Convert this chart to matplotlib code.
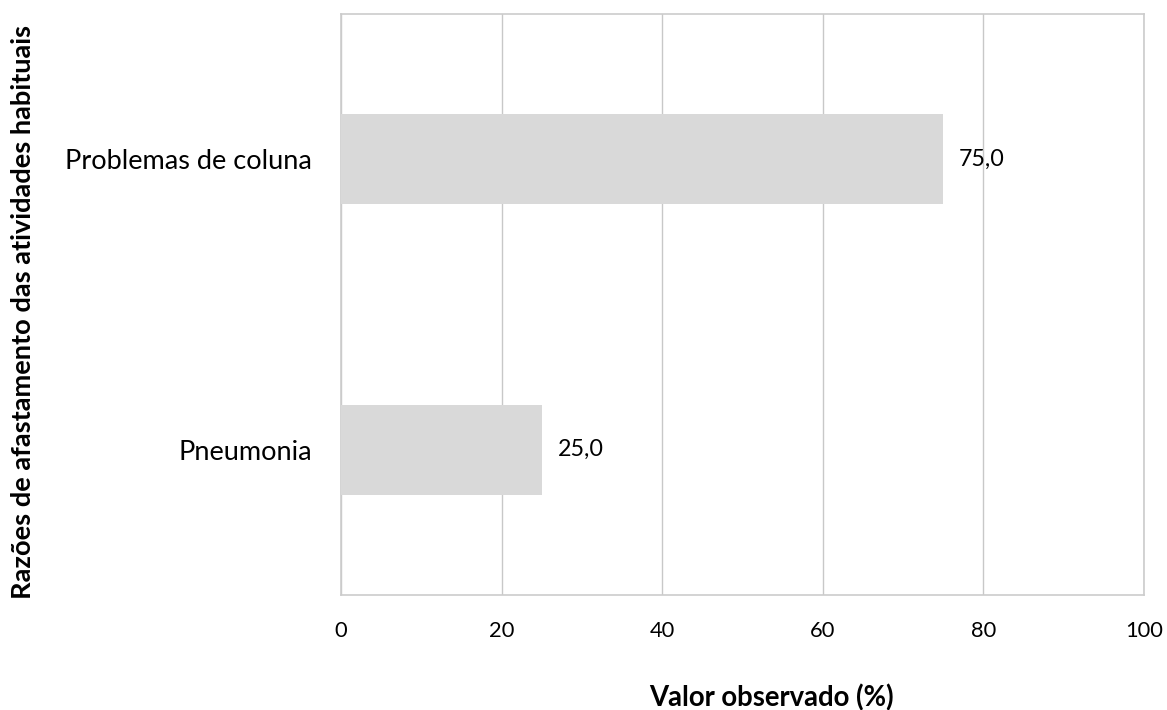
import matplotlib.pyplot as plt

# dados
categorias = ["Pneumonia", "Problemas de coluna"]
valores = [25.0, 75.0]
ticks_x = [0, 20, 40, 60, 80, 100]

plt.rcParams["font.family"] = ["Lato", "DejaVu Sans"]

W, H = 1167, 710
fig = plt.figure(figsize=(W / 100, H / 100), dpi=100)
ax = fig.add_axes([341 / W, 1 - 595 / H, 803 / W, 581 / H])

pos = list(range(len(categorias)))
ax.barh(pos, valores, height=0.31, color="#d9d9d9", zorder=3)

# rótulos de valor
rotulos = []
for p, v in zip(pos, valores):
    t = ax.annotate(f"{v:.1f}".replace(".", ","), xy=(v, p), xytext=(11.5, 0),
                    textcoords="offset points", va="center", ha="left",
                    fontsize=16, color="#000000")
    rotulos.append(t)

ax.set_xlim(0, 100)
ax.set_ylim(-0.5, 1.5)
ax.set_xticks(ticks_x)
ax.set_xticklabels([str(t) for t in ticks_x], fontsize=16)
ax.set_yticks(pos)
ax.set_yticklabels(categorias, fontsize=18)
ax.tick_params(axis="x", length=0, pad=19)
ax.tick_params(axis="y", length=0, pad=21)

ax.grid(axis="x", color="#c8c8c8", linewidth=1, zorder=0)
for s in ax.spines.values():
    s.set_color("#cccccc")
    s.set_linewidth(1.2)

xlab = fig.text(771 / W, 1 - 684 / H, "Valor observado (%)", ha="center", va="top",
                fontsize=18, fontweight="bold")
ylab = fig.text(23 / W, 1 - 312 / H, "Razões de afastamento das atividades habituais",
                rotation=90, ha="center", va="center", fontsize=18, fontweight="bold")


# ajusta o tamanho da fonte para a largura medida na imagem
def ajustar(txt, largura, vertical=False):
    fig.canvas.draw()
    bb = txt.get_window_extent()
    atual = bb.height if vertical else bb.width
    txt.set_fontsize(txt.get_fontsize() * largura / atual)


r = fig.canvas.get_renderer()
ajustar(xlab, 246)
ajustar(ylab, 578, vertical=True)
ajustar(ax.get_yticklabels()[1], 247)
ajustar(ax.get_xticklabels()[-1], 38)
ajustar(rotulos[1], 46)
tam_y = ax.get_yticklabels()[1].get_fontsize()
tam_x = ax.get_xticklabels()[-1].get_fontsize()
for t in ax.get_yticklabels():
    t.set_fontsize(tam_y)
for t in ax.get_xticklabels():
    t.set_fontsize(tam_x)
for t in rotulos:
    t.set_fontsize(rotulos[1].get_fontsize())

fig.savefig("out.png", dpi=100)
